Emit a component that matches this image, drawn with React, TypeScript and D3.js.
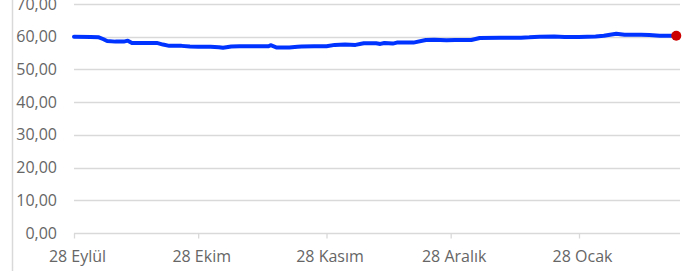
import { useEffect, useRef } from 'react';
import * as d3 from 'd3';

// dates (days since 28 Sep 2023) and values
const dayOffsets = [0, 4, 6, 7, 8, 10, 12, 13, 14, 17, 20, 21.5, 23, 26, 28, 30, 33, 35, 36, 38, 40, 44, 47, 47.5, 49, 52, 54, 55, 58, 61, 63, 65.5, 68, 70, 73, 74, 75, 77, 78, 82, 85, 87, 90, 92, 96, 98, 103, 108, 110, 112.5, 116, 118.5, 122, 126, 128, 131, 133, 137, 139, 141.5, 145.5];
const values = [60.0, 59.9, 59.8, 59.3, 58.7, 58.5, 58.5, 58.8, 58.1, 58.1, 58.1, 57.6, 57.2, 57.2, 57.0, 56.9, 56.9, 56.8, 56.6, 57.0, 57.1, 57.1, 57.1, 57.4, 56.7, 56.7, 56.9, 57.0, 57.1, 57.1, 57.5, 57.6, 57.5, 58.0, 58.0, 57.8, 58.1, 57.9, 58.2, 58.2, 59.0, 59.1, 58.9, 59.0, 59.0, 59.6, 59.7, 59.7, 59.8, 60.0, 60.1, 59.9, 59.9, 60.1, 60.3, 60.9, 60.6, 60.6, 60.5, 60.3, 60.3];
const tickDates = ['2023-09-28', '2023-10-28', '2023-11-28', '2023-12-28', '2024-01-28'];
const tickLabels = ['28 Eylül', '28 Ekim', '28 Kasım', '28 Aralık', '28 Ocak'];
const yTicks = [0, 10, 20, 30, 40, 50, 60, 70];

const start = new Date(2023, 8, 28);
const dayMs = 24 * 3600 * 1000;

const App = () => {
  const ref = useRef<SVGSVGElement>(null);

  useEffect(() => {
    const svg = d3.select(ref.current);
    svg.selectAll('*').remove();

    const data = dayOffsets.map((d, i) => ({ date: new Date(start.getTime() + d * dayMs), value: values[i] }));

    const xScale = d3.scaleTime()
      .domain([start, new Date(2024, 0, 28)])
      .range([74, 579]);
    const yScale = d3.scaleLinear()
      .domain([0, 70])
      .range([233, 4]);

    const font = "'Open Sans', sans-serif";

    // left border line
    svg.append('line')
      .attr('x1', 12.5).attr('x2', 12.5)
      .attr('y1', 0).attr('y2', 271)
      .attr('stroke', '#d9d9d9').attr('stroke-width', 1.5);

    // gridlines + y labels
    const gy = svg.append('g');
    yTicks.forEach(t => {
      if (t > 0) {
        gy.append('line')
          .attr('x1', 74).attr('x2', 680)
          .attr('y1', Math.round(yScale(t)) + 0.5).attr('y2', Math.round(yScale(t)) + 0.5)
          .attr('stroke', '#d9d9d9').attr('stroke-width', 1.3);
      }
      gy.append('text')
        .text(d3.format('.2f')(t).replace('.', ','))
        .attr('x', 57).attr('y', yScale(t))
        .attr('dy', '0.35em')
        .attr('text-anchor', 'end')
        .style('font-family', font).style('font-size', '16px')
        .attr('fill', '#666');
    });

    // x axis
    const tickVals = tickDates.map(d => d3.timeParse('%Y-%m-%d')(d) as Date);
    const xAxis = d3.axisBottom(xScale)
      .tickValues(tickVals)
      .tickSize(5)
      .tickSizeOuter(0)
      .tickFormat((_d, i) => tickLabels[i]);
    const xAxisG = svg.append('g')
      .attr('transform', `translate(0,${Math.round(yScale(0)) + 0.5})`)
      .call(xAxis);
    xAxisG.select('.domain')
      .attr('d', `M74,0H680`)
      .attr('stroke', '#d9d9d9').attr('stroke-width', 1.3);
    xAxisG.selectAll('.tick line').attr('stroke', '#d9d9d9').attr('stroke-width', 1.3);
    xAxisG.selectAll('.tick text')
      .attr('x', 3)
      .attr('y', 17)
      .attr('dy', '0.71em')
      .style('font-family', font).style('font-size', '16px')
      .attr('fill', '#666');

    // series line
    const line = d3.line<{ date: Date; value: number }>()
      .x(d => xScale(d.date))
      .y(d => yScale(d.value));
    svg.append('path')
      .datum(data)
      .attr('d', line)
      .attr('fill', 'none')
      .attr('stroke', '#0033ff')
      .attr('stroke-width', 4)
      .attr('stroke-linejoin', 'round')
      .attr('stroke-linecap', 'round');

    const last = data[data.length - 1];
    svg.append('circle')
      .attr('cx', xScale(last.date))
      .attr('cy', yScale(last.value))
      .attr('r', 5)
      .attr('fill', '#cc0000');
  }, []);

  return (
    <svg ref={ref} width={685} height={271} style={{ position: 'absolute', left: 0, top: 0, background: '#fff' }} />
  );
};

export default App;
